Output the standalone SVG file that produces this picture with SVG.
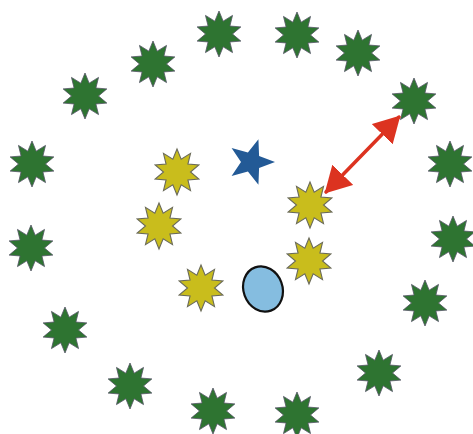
<svg xmlns="http://www.w3.org/2000/svg" width="473" height="434" viewBox="0 0 473 434">
<style>
.g{fill:#2e7431;stroke:#556;stroke-width:0.8}
.y{fill:#c9bd1c;stroke:#6a6a5a;stroke-width:1.1}
.conn{stroke:#dc3320;stroke-width:3.5;fill:none;stroke-linecap:round}
</style>
<defs>
<polygon id="s10" points="0,-23 4.17,-12.84 13.52,-18.61 10.92,-7.94 21.87,-7.11 13.5,0 21.87,7.11 10.92,7.94 13.52,18.61 4.17,12.84 0,23 -4.17,12.84 -13.52,18.61 -10.92,7.94 -21.87,7.11 -13.5,0 -21.87,-7.11 -10.92,-7.94 -13.52,-18.61 -4.17,-12.84"/>
<marker id="ah" viewBox="0 0 26 29" refX="24" refY="14.5" markerWidth="26" markerHeight="29" markerUnits="userSpaceOnUse" orient="auto-start-reverse">
<path d="M0,0 L26,14.5 L0,29 z" fill="#dc3320"/>
</marker>
</defs>
<rect width="473" height="434" fill="#fff"/>
<g id="green-stars">
<g id="g1"><use href="#s10" class="g" x="219" y="34"/></g>
<g id="g2"><use href="#s10" class="g" x="297" y="35"/></g>
<g id="g3"><use href="#s10" class="g" x="358" y="53"/></g>
<g id="g4"><use href="#s10" class="g" x="153" y="64"/></g>
<g id="g5"><use href="#s10" class="g" x="85" y="96"/></g>
<g id="g6"><use href="#s10" class="g" x="414" y="101"/></g>
<g id="g7"><use href="#s10" class="g" x="32" y="164"/></g>
<g id="g8"><use href="#s10" class="g" x="450" y="164"/></g>
<g id="g9"><use href="#s10" class="g" x="31" y="248"/></g>
<g id="g10"><use href="#s10" class="g" x="453" y="239"/></g>
<g id="g11"><use href="#s10" class="g" x="425" y="303"/></g>
<g id="g12"><use href="#s10" class="g" x="65" y="330"/></g>
<g id="g13"><use href="#s10" class="g" x="379" y="373"/></g>
<g id="g14"><use href="#s10" class="g" x="130" y="386"/></g>
<g id="g15"><use href="#s10" class="g" x="213" y="411"/></g>
<g id="g16"><use href="#s10" class="g" x="297" y="415"/></g>
</g>
<g id="yellow-stars">
<g id="y1"><use href="#s10" class="y" x="177" y="172"/></g>
<g id="y2"><use href="#s10" class="y" x="159" y="226"/></g>
<g id="y3"><use href="#s10" class="y" x="310" y="205"/></g>
<g id="y4"><use href="#s10" class="y" x="309" y="261"/></g>
<g id="y5"><use href="#s10" class="y" x="201" y="288"/></g>
</g>
<g id="blue-star">
<polygon transform="translate(251,162)" fill="#235a96" points="24,0 8.09,5.88 7.42,22.83 -3.09,9.51 -19.42,14.11 -10,0 -19.42,-14.11 -3.09,-9.51 7.42,-22.83 8.09,-5.88"/>
</g>
<g id="ellipse-node">
<ellipse cx="263" cy="289" rx="19.5" ry="23" transform="rotate(-20 263 289)" fill="#85bde0" stroke="#111" stroke-width="2.2"/>
</g>
<g id="connectors">
<line class="conn" x1="326" y1="192" x2="399" y2="117" marker-start="url(#ah)" marker-end="url(#ah)"/>
</g>
</svg>
